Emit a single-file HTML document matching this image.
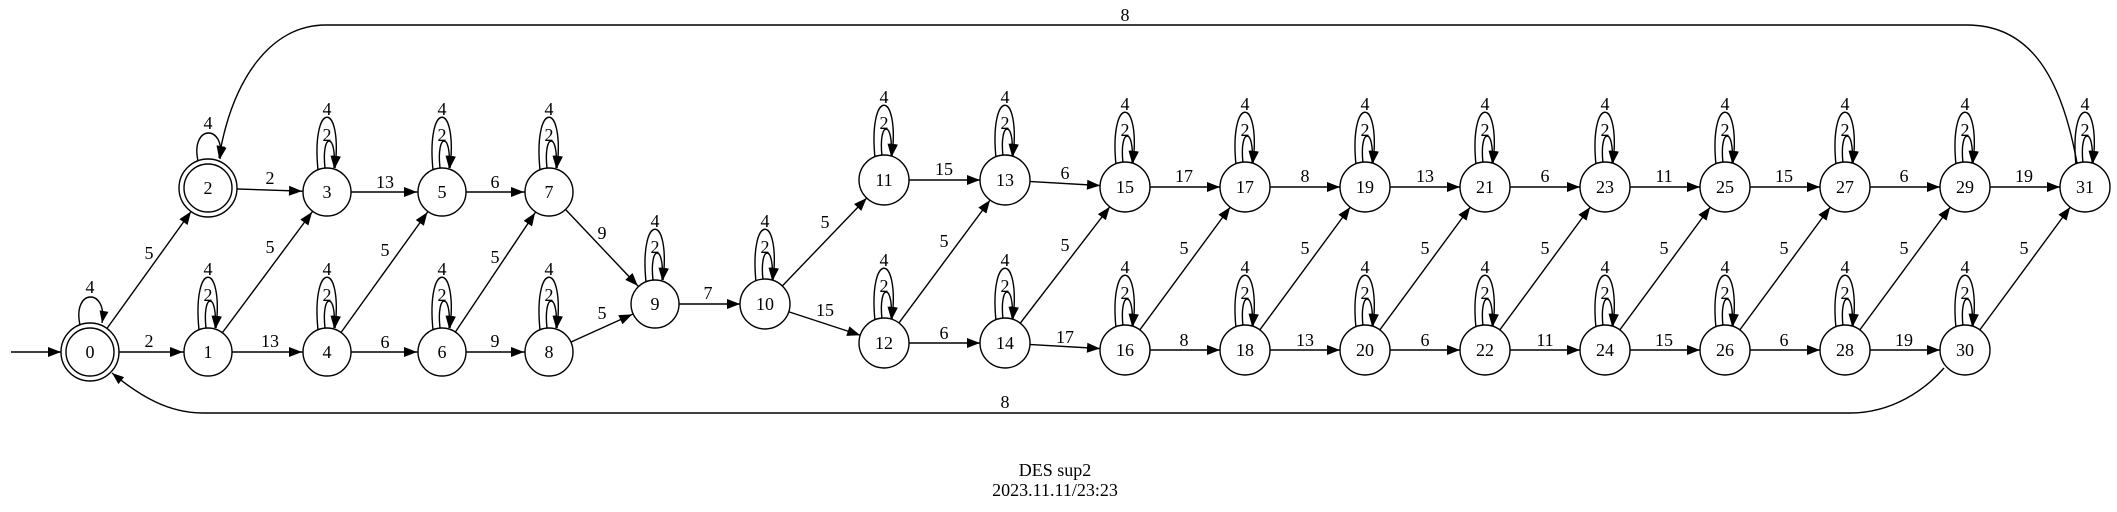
<!DOCTYPE html>
<html><head><meta charset="utf-8"><style>
html,body{margin:0;padding:0;background:#fff;}
svg{display:block;}
text{font-family:"Liberation Serif",serif;font-size:18px;fill:#000;text-anchor:middle;}
</style></head><body>
<svg width="2117" height="512" viewBox="0 0 2117 512" xmlns="http://www.w3.org/2000/svg">
<defs>
<marker id="a" markerUnits="userSpaceOnUse" markerWidth="60" markerHeight="20" refX="25" refY="0" orient="auto" overflow="visible" viewBox="-40 -10 60 20"><path d="M-13,-5 L0,0 L-13,5 Z" fill="#000"/></marker>
<marker id="b" markerUnits="userSpaceOnUse" markerWidth="60" markerHeight="20" refX="29" refY="0" orient="auto" overflow="visible" viewBox="-40 -10 60 20"><path d="M-13,-5 L0,0 L-13,5 Z" fill="#000"/></marker>
<marker id="c" markerUnits="userSpaceOnUse" markerWidth="30" markerHeight="20" refX="0" refY="0" orient="auto" overflow="visible" viewBox="-20 -10 30 20"><path d="M-12,-4.5 L0,0 L-12,4.5 Z" fill="#000"/></marker>
</defs>
<g stroke="#000" stroke-width="1.4" fill="none">
<line x1="11" y1="352" x2="90" y2="352" marker-end="url(#b)"/>
<line x1="90" y1="352" x2="208" y2="352" marker-end="url(#a)"/>
<line x1="90" y1="352" x2="208" y2="188" marker-end="url(#b)"/>
<line x1="208" y1="188" x2="327" y2="192" marker-end="url(#a)"/>
<line x1="208" y1="352" x2="327" y2="192" marker-end="url(#a)"/>
<line x1="208" y1="352" x2="327" y2="352" marker-end="url(#a)"/>
<line x1="327" y1="192" x2="442" y2="192" marker-end="url(#a)"/>
<line x1="327" y1="352" x2="442" y2="192" marker-end="url(#a)"/>
<line x1="327" y1="352" x2="442" y2="352" marker-end="url(#a)"/>
<line x1="442" y1="192" x2="549" y2="192" marker-end="url(#a)"/>
<line x1="442" y1="352" x2="549" y2="192" marker-end="url(#a)"/>
<line x1="442" y1="352" x2="549" y2="352" marker-end="url(#a)"/>
<line x1="549" y1="192" x2="655" y2="304" marker-end="url(#a)"/>
<line x1="549" y1="352" x2="655" y2="304" marker-end="url(#a)"/>
<line x1="655" y1="304" x2="765" y2="304" marker-end="url(#a)"/>
<line x1="765" y1="304" x2="884" y2="180" marker-end="url(#a)"/>
<line x1="765" y1="304" x2="884" y2="343" marker-end="url(#a)"/>
<line x1="884" y1="180" x2="1005" y2="180" marker-end="url(#a)"/>
<line x1="884" y1="343" x2="1005" y2="180" marker-end="url(#a)"/>
<line x1="884" y1="343" x2="1005" y2="343" marker-end="url(#a)"/>
<line x1="1005" y1="180" x2="1125" y2="187" marker-end="url(#a)"/>
<line x1="1005" y1="343" x2="1125" y2="187" marker-end="url(#a)"/>
<line x1="1005" y1="343" x2="1125" y2="350" marker-end="url(#a)"/>
<line x1="1125" y1="187" x2="1245" y2="187" marker-end="url(#a)"/>
<line x1="1125" y1="350" x2="1245" y2="187" marker-end="url(#a)"/>
<line x1="1125" y1="350" x2="1245" y2="350" marker-end="url(#a)"/>
<line x1="1245" y1="187" x2="1365" y2="187" marker-end="url(#a)"/>
<line x1="1245" y1="350" x2="1365" y2="187" marker-end="url(#a)"/>
<line x1="1245" y1="350" x2="1365" y2="350" marker-end="url(#a)"/>
<line x1="1365" y1="187" x2="1485" y2="187" marker-end="url(#a)"/>
<line x1="1365" y1="350" x2="1485" y2="187" marker-end="url(#a)"/>
<line x1="1365" y1="350" x2="1485" y2="350" marker-end="url(#a)"/>
<line x1="1485" y1="187" x2="1605" y2="187" marker-end="url(#a)"/>
<line x1="1485" y1="350" x2="1605" y2="187" marker-end="url(#a)"/>
<line x1="1485" y1="350" x2="1605" y2="350" marker-end="url(#a)"/>
<line x1="1605" y1="187" x2="1725" y2="187" marker-end="url(#a)"/>
<line x1="1605" y1="350" x2="1725" y2="187" marker-end="url(#a)"/>
<line x1="1605" y1="350" x2="1725" y2="350" marker-end="url(#a)"/>
<line x1="1725" y1="187" x2="1845" y2="187" marker-end="url(#a)"/>
<line x1="1725" y1="350" x2="1845" y2="187" marker-end="url(#a)"/>
<line x1="1725" y1="350" x2="1845" y2="350" marker-end="url(#a)"/>
<line x1="1845" y1="187" x2="1965" y2="187" marker-end="url(#a)"/>
<line x1="1845" y1="350" x2="1965" y2="187" marker-end="url(#a)"/>
<line x1="1845" y1="350" x2="1965" y2="350" marker-end="url(#a)"/>
<line x1="1965" y1="187" x2="2085" y2="187" marker-end="url(#a)"/>
<line x1="1965" y1="350" x2="2085" y2="187" marker-end="url(#a)"/>
<path d="M2077,163 C2062,80 2032,25 1967,25 L326,25 C270,25 232,80 219,158" marker-end="url(#c)"/>
<path d="M1944,368 C1925,390 1892,413 1850,413 L203,413 C168,413 140,396 112,373" marker-end="url(#c)"/>
<!-- single loops -->
<path d="M80,325 C72,288 108,288 102,323" marker-end="url(#c)"/>
<path d="M198,161 C190,124 226,124 220,159" marker-end="url(#c)"/>
</g>
<g stroke="#000" stroke-width="1.4" fill="none" id="loops">
<!-- double loops: outer and inner -->
<path d="M199,330 C192,260 224,260 216,328" marker-end="url(#c)"/><path d="M206,328 C202,292 218,292 215,328" marker-end="url(#c)"/>
<path d="M318,170 C311,100 343,100 335,168" marker-end="url(#c)"/><path d="M325,168 C321,132 337,132 334,168" marker-end="url(#c)"/>
<path d="M318,330 C311,260 343,260 335,328" marker-end="url(#c)"/><path d="M325,328 C321,292 337,292 334,328" marker-end="url(#c)"/>
<path d="M433,170 C426,100 458,100 450,168" marker-end="url(#c)"/><path d="M440,168 C436,132 452,132 449,168" marker-end="url(#c)"/>
<path d="M433,330 C426,260 458,260 450,328" marker-end="url(#c)"/><path d="M440,328 C436,292 452,292 449,328" marker-end="url(#c)"/>
<path d="M540,170 C533,100 565,100 557,168" marker-end="url(#c)"/><path d="M547,168 C543,132 559,132 556,168" marker-end="url(#c)"/>
<path d="M540,330 C533,260 565,260 557,328" marker-end="url(#c)"/><path d="M547,328 C543,292 559,292 556,328" marker-end="url(#c)"/>
<path d="M646,282 C639,212 671,212 663,280" marker-end="url(#c)"/><path d="M653,280 C649,244 665,244 662,280" marker-end="url(#c)"/>
<path d="M756,282 C749,212 781,212 773,280" marker-end="url(#c)"/><path d="M763,280 C759,244 775,244 772,280" marker-end="url(#c)"/>
<path d="M875,158 C868,88 900,88 892,156" marker-end="url(#c)"/><path d="M882,156 C878,120 894,120 891,156" marker-end="url(#c)"/>
<path d="M875,321 C868,251 900,251 892,319" marker-end="url(#c)"/><path d="M882,319 C878,283 894,283 891,319" marker-end="url(#c)"/>
<path d="M996,158 C989,88 1021,88 1013,156" marker-end="url(#c)"/><path d="M1003,156 C999,120 1015,120 1012,156" marker-end="url(#c)"/>
<path d="M996,321 C989,251 1021,251 1013,319" marker-end="url(#c)"/><path d="M1003,319 C999,283 1015,283 1012,319" marker-end="url(#c)"/>
<path d="M1116,165 C1109,95 1141,95 1133,163" marker-end="url(#c)"/><path d="M1123,163 C1119,127 1135,127 1132,163" marker-end="url(#c)"/>
<path d="M1116,328 C1109,258 1141,258 1133,326" marker-end="url(#c)"/><path d="M1123,326 C1119,290 1135,290 1132,326" marker-end="url(#c)"/>
<path d="M1236,165 C1229,95 1261,95 1253,163" marker-end="url(#c)"/><path d="M1243,163 C1239,127 1255,127 1252,163" marker-end="url(#c)"/>
<path d="M1236,328 C1229,258 1261,258 1253,326" marker-end="url(#c)"/><path d="M1243,326 C1239,290 1255,290 1252,326" marker-end="url(#c)"/>
<path d="M1356,165 C1349,95 1381,95 1373,163" marker-end="url(#c)"/><path d="M1363,163 C1359,127 1375,127 1372,163" marker-end="url(#c)"/>
<path d="M1356,328 C1349,258 1381,258 1373,326" marker-end="url(#c)"/><path d="M1363,326 C1359,290 1375,290 1372,326" marker-end="url(#c)"/>
<path d="M1476,165 C1469,95 1501,95 1493,163" marker-end="url(#c)"/><path d="M1483,163 C1479,127 1495,127 1492,163" marker-end="url(#c)"/>
<path d="M1476,328 C1469,258 1501,258 1493,326" marker-end="url(#c)"/><path d="M1483,326 C1479,290 1495,290 1492,326" marker-end="url(#c)"/>
<path d="M1596,165 C1589,95 1621,95 1613,163" marker-end="url(#c)"/><path d="M1603,163 C1599,127 1615,127 1612,163" marker-end="url(#c)"/>
<path d="M1596,328 C1589,258 1621,258 1613,326" marker-end="url(#c)"/><path d="M1603,326 C1599,290 1615,290 1612,326" marker-end="url(#c)"/>
<path d="M1716,165 C1709,95 1741,95 1733,163" marker-end="url(#c)"/><path d="M1723,163 C1719,127 1735,127 1732,163" marker-end="url(#c)"/>
<path d="M1716,328 C1709,258 1741,258 1733,326" marker-end="url(#c)"/><path d="M1723,326 C1719,290 1735,290 1732,326" marker-end="url(#c)"/>
<path d="M1836,165 C1829,95 1861,95 1853,163" marker-end="url(#c)"/><path d="M1843,163 C1839,127 1855,127 1852,163" marker-end="url(#c)"/>
<path d="M1836,328 C1829,258 1861,258 1853,326" marker-end="url(#c)"/><path d="M1843,326 C1839,290 1855,290 1852,326" marker-end="url(#c)"/>
<path d="M1956,165 C1949,95 1981,95 1973,163" marker-end="url(#c)"/><path d="M1963,163 C1959,127 1975,127 1972,163" marker-end="url(#c)"/>
<path d="M1956,328 C1949,258 1981,258 1973,326" marker-end="url(#c)"/><path d="M1963,326 C1959,290 1975,290 1972,326" marker-end="url(#c)"/>
<path d="M2076,165 C2069,95 2101,95 2093,163" marker-end="url(#c)"/><path d="M2083,163 C2079,127 2095,127 2092,163" marker-end="url(#c)"/>
</g>
<g stroke="#000" stroke-width="1.4" fill="#fff">
<circle cx="90" cy="352" r="29"/><circle cx="90" cy="352" r="24"/>
<circle cx="208" cy="188" r="29"/><circle cx="208" cy="188" r="24"/>
<circle cx="208" cy="352" r="24"/>
<circle cx="327" cy="192" r="24"/><circle cx="327" cy="352" r="24"/>
<circle cx="442" cy="192" r="24"/><circle cx="442" cy="352" r="24"/>
<circle cx="549" cy="192" r="24"/><circle cx="549" cy="352" r="24"/>
<circle cx="655" cy="304" r="24"/><circle cx="765" cy="304" r="25"/>
<circle cx="884" cy="180" r="25"/><circle cx="884" cy="343" r="25"/>
<circle cx="1005" cy="180" r="25"/><circle cx="1005" cy="343" r="25"/>
<circle cx="1125" cy="187" r="25"/><circle cx="1125" cy="350" r="25"/>
<circle cx="1245" cy="187" r="25"/><circle cx="1245" cy="350" r="25"/>
<circle cx="1365" cy="187" r="25"/><circle cx="1365" cy="350" r="25"/>
<circle cx="1485" cy="187" r="25"/><circle cx="1485" cy="350" r="25"/>
<circle cx="1605" cy="187" r="25"/><circle cx="1605" cy="350" r="25"/>
<circle cx="1725" cy="187" r="25"/><circle cx="1725" cy="350" r="25"/>
<circle cx="1845" cy="187" r="25"/><circle cx="1845" cy="350" r="25"/>
<circle cx="1965" cy="187" r="25"/><circle cx="1965" cy="350" r="25"/>
<circle cx="2085" cy="187" r="25"/>
</g>
<g>
<text x="90" y="358">0</text><text x="208" y="358">1</text><text x="208" y="194">2</text>
<text x="327" y="198">3</text><text x="327" y="358">4</text><text x="442" y="198">5</text><text x="442" y="358">6</text>
<text x="549" y="198">7</text><text x="549" y="358">8</text><text x="655" y="310">9</text><text x="765" y="310">10</text>
<text x="884" y="186">11</text><text x="884" y="349">12</text><text x="1005" y="186">13</text><text x="1005" y="349">14</text>
<text x="1125" y="193">15</text><text x="1125" y="356">16</text><text x="1245" y="193">17</text><text x="1245" y="356">18</text>
<text x="1365" y="193">19</text><text x="1365" y="356">20</text><text x="1485" y="193">21</text><text x="1485" y="356">22</text>
<text x="1605" y="193">23</text><text x="1605" y="356">24</text><text x="1725" y="193">25</text><text x="1725" y="356">26</text>
<text x="1845" y="193">27</text><text x="1845" y="356">28</text><text x="1965" y="193">29</text><text x="1965" y="356">30</text>
<text x="2085" y="193">31</text>
<!-- loop labels -->
<text x="90" y="293">4</text><text x="208" y="129">4</text>
<text x="208" y="275">4</text><text x="208" y="301">2</text>
<text x="327" y="115">4</text><text x="327" y="141">2</text><text x="327" y="275">4</text><text x="327" y="301">2</text>
<text x="442" y="115">4</text><text x="442" y="141">2</text><text x="442" y="275">4</text><text x="442" y="301">2</text>
<text x="549" y="115">4</text><text x="549" y="141">2</text><text x="549" y="275">4</text><text x="549" y="301">2</text>
<text x="655" y="227">4</text><text x="655" y="253">2</text><text x="765" y="227">4</text><text x="765" y="253">2</text>
<text x="884" y="103">4</text><text x="884" y="129">2</text><text x="884" y="266">4</text><text x="884" y="292">2</text>
<text x="1005" y="103">4</text><text x="1005" y="129">2</text><text x="1005" y="266">4</text><text x="1005" y="292">2</text>
<text x="1125" y="110">4</text><text x="1125" y="136">2</text><text x="1125" y="273">4</text><text x="1125" y="299">2</text>
<text x="1245" y="110">4</text><text x="1245" y="136">2</text><text x="1245" y="273">4</text><text x="1245" y="299">2</text>
<text x="1365" y="110">4</text><text x="1365" y="136">2</text><text x="1365" y="273">4</text><text x="1365" y="299">2</text>
<text x="1485" y="110">4</text><text x="1485" y="136">2</text><text x="1485" y="273">4</text><text x="1485" y="299">2</text>
<text x="1605" y="110">4</text><text x="1605" y="136">2</text><text x="1605" y="273">4</text><text x="1605" y="299">2</text>
<text x="1725" y="110">4</text><text x="1725" y="136">2</text><text x="1725" y="273">4</text><text x="1725" y="299">2</text>
<text x="1845" y="110">4</text><text x="1845" y="136">2</text><text x="1845" y="273">4</text><text x="1845" y="299">2</text>
<text x="1965" y="110">4</text><text x="1965" y="136">2</text><text x="1965" y="273">4</text><text x="1965" y="299">2</text>
<text x="2085" y="110">4</text><text x="2085" y="136">2</text>
<!-- edge labels -->
<text x="149" y="259">5</text><text x="149" y="347">2</text>
<text x="270" y="184">2</text><text x="270" y="253">5</text><text x="270" y="347">13</text>
<text x="385" y="188">13</text><text x="385" y="256">5</text><text x="385" y="348">6</text>
<text x="495" y="188">6</text><text x="495" y="263">5</text><text x="495" y="347">9</text>
<text x="602" y="239">9</text><text x="602" y="319">5</text><text x="708" y="299">7</text>
<text x="825" y="228">5</text><text x="825" y="316">15</text>
<text x="944" y="175">15</text><text x="944" y="247">5</text><text x="944" y="339">6</text>
<text x="1065" y="179">6</text><text x="1065" y="251">5</text><text x="1065" y="343">17</text>
<text x="1184" y="182">17</text><text x="1184" y="254">5</text><text x="1184" y="346">8</text>
<text x="1305" y="182">8</text><text x="1305" y="254">5</text><text x="1305" y="346">13</text>
<text x="1425" y="182">13</text><text x="1425" y="254">5</text><text x="1425" y="346">6</text>
<text x="1545" y="182">6</text><text x="1545" y="254">5</text><text x="1545" y="346">11</text>
<text x="1664" y="182">11</text><text x="1664" y="254">5</text><text x="1664" y="346">15</text>
<text x="1784" y="182">15</text><text x="1784" y="254">5</text><text x="1784" y="346">6</text>
<text x="1904" y="182">6</text><text x="1904" y="254">5</text><text x="1904" y="346">19</text>
<text x="2024" y="182">19</text><text x="2024" y="254">5</text>
<text x="1125" y="21">8</text><text x="1005" y="408">8</text>
<text x="1055" y="476">DES sup2</text>
<text x="1055" y="496">2023.11.11/23:23</text>
</g>
</svg>
</body></html>
